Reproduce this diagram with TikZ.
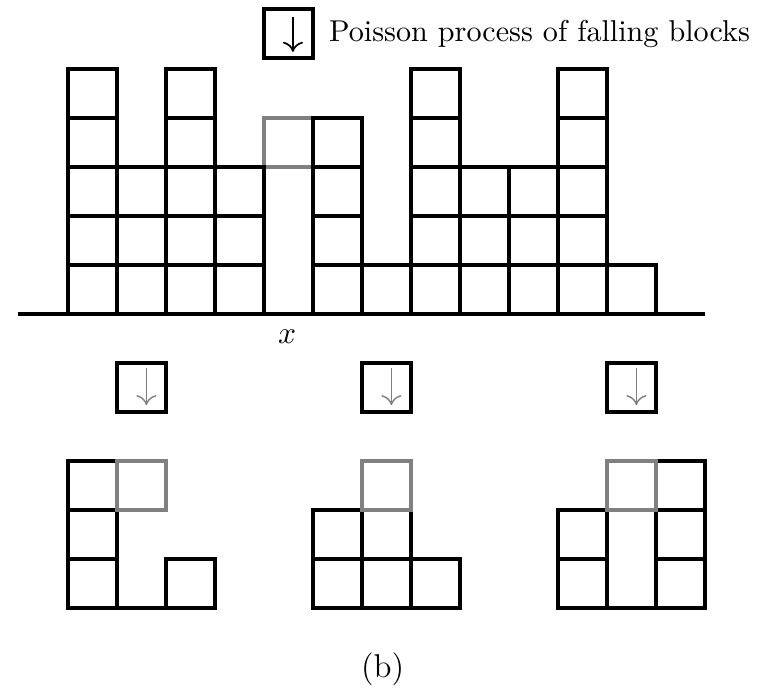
\documentclass[tikz,border=0pt]{standalone}
\usepackage{amsmath}
\usepackage{amssymb}
\usepackage{tikz}
\usetikzlibrary{arrows.meta, positioning}

\begin{document}
\begin{tikzpicture}[x=0.6cm, y=0.6cm,
    cell/.style={draw=black, line width=1.1pt},
    newcell/.style={draw=black!50, line width=1.1pt},
    dropbox/.style={draw=black, line width=1.2pt, minimum size=0.6cm, inner sep=0pt},
    fall/.style={-{To[length=3.5pt,width=7pt]}, line width=0.6pt}]
    \useasboundingbox (-1.388,-7.653) rectangle (14.224,6.408);
    % heights before the block falls at x
    \draw[newcell] (4,3) rectangle ++(1,1);
    \foreach \c/\h in {0/5,1/3,2/5,3/3,5/4,6/1,7/5,8/3,9/3,10/5,11/1}
        \foreach \r in {1,...,\h}
            \draw[cell] (\c,\r-1) rectangle ++(1,1);
    \draw[line width=1.3pt] (-1.02,0) -- (13,0);
    \node[font=\fontsize{11}{13}\selectfont] (site) at (4.47,-0.46) {$x$};
    \node[dropbox] (legend) at (4.5,5.72) {};
    \draw[fall] (4.59,6.06) -- (4.59,5.35);
    \node[right=0.17cm of legend, inner sep=0pt, font=\fontsize{10.5}{12.6}\selectfont] (legendtext) {Poisson process of falling blocks};
    % the three cases
    \foreach \c/\h in {0/3,2/1,5/2,6/2,7/1,10/2,12/3}
        \foreach \r in {1,...,\h}
            \draw[cell] (\c,\r-7) rectangle ++(1,1);
    \foreach \s in {0,5,10} {
        \draw[cell] (\s,-6) -- (\s+3,-6);
        \draw[newcell] (\s+1,-4) rectangle ++(1,1);
        \node[dropbox] (drop\s) at (\s+1.5,-1.5) {};
        \draw[fall, draw=black!50, line width=0.5pt] (\s+1.6,-1.1) -- (\s+1.6,-1.86);
    }
    \node[font=\fontsize{11.5}{14}\selectfont] (caption) at (6.42,-7.24) {(b)};
\end{tikzpicture}
\end{document}
